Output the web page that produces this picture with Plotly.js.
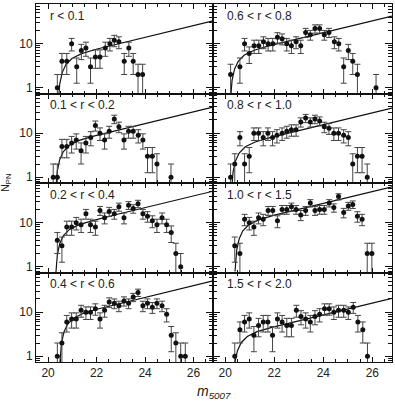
<!DOCTYPE html>
<html>
<head>
<meta charset="utf-8">
<script src="https://cdn.plot.ly/plotly-3.0.1.min.js"></script>
<style>
  body { margin: 0; background: #fff; }
  #chart { width: 395px; height: 401px; }
</style>
</head>
<body>
<div id="chart"></div>
<script>
// panel labels, reading order (left col, right col) row by row
const panelLabels = ['r < 0.1', '0.6 < r < 0.8', '0.1 < r < 0.2', '0.8 < r < 1.0',
                     '0.2 < r < 0.4', '1.0 < r < 1.5', '0.4 < r < 0.6', '1.5 < r < 2.0'];

// binned counts (m5007, N_PN)
const magR000_01 = [20.38, 20.57, 20.77, 20.97, 21.18, 21.37, 21.56, 21.75, 21.95, 22.14, 22.36, 22.55, 22.73, 22.92, 23.14, 23.33, 23.51, 23.71, 23.90];
const numR000_01 = [1, 4, 4, 10, 3, 7, 8, 3, 5, 5, 8, 10, 12, 11, 4, 8, 4, 2, 2];

const magR06_08 = [20.22, 20.60, 20.79, 20.98, 21.18, 21.37, 21.56, 21.75, 21.94, 22.13, 22.32, 22.51, 22.70, 22.89, 23.08, 23.28, 23.47, 23.66, 23.85, 24.04, 24.23, 24.45, 24.63, 24.83, 25.02, 25.20, 25.39, 26.15];
const numR06_08 = [2, 3, 10, 6, 9, 9, 11, 10, 10, 14, 13, 10, 9, 11, 9, 18, 16, 22, 22, 16, 18, 11, 10, 3, 7, 4, 2, 1];

const magR01_02 = [20.21, 20.38, 20.57, 20.77, 20.97, 21.16, 21.36, 21.56, 21.76, 21.95, 22.14, 22.33, 22.52, 22.73, 22.92, 23.13, 23.32, 23.51, 23.72, 23.91, 24.10, 24.30, 24.49, 25.07];
const numR01_02 = [1, 1, 5, 5, 6, 7, 4, 6, 8, 15, 10, 7, 11, 21, 14, 7, 11, 11, 9, 7, 3, 3, 2, 1];

const magR08_10 = [20.22, 20.39, 20.60, 20.79, 20.98, 21.17, 21.36, 21.55, 21.74, 21.93, 22.11, 22.32, 22.51, 22.70, 22.89, 23.08, 23.28, 23.47, 23.66, 23.85, 24.04, 24.23, 24.43, 24.62, 24.83, 25.02, 25.20, 25.39, 25.58, 25.79];
const numR08_10 = [1, 2, 8, 2, 3, 10, 10, 8, 10, 8, 9, 10, 11, 12, 12, 18, 22, 18, 21, 19, 14, 13, 10, 10, 9, 8, 2, 3, 3, 1];

const magR02_04 = [20.38, 20.57, 20.77, 20.97, 21.16, 21.36, 21.56, 21.75, 21.95, 22.14, 22.33, 22.52, 22.73, 22.92, 23.13, 23.32, 23.51, 23.71, 23.91, 24.10, 24.30, 24.49, 24.70, 24.89, 25.08, 25.27, 25.47];
const numR02_04 = [4, 3, 8, 8, 10, 9, 16, 9, 8, 19, 13, 18, 16, 23, 13, 25, 21, 27, 16, 14, 11, 9, 13, 9, 6, 2, 1];

const magR10_15 = [20.39, 20.60, 20.79, 20.98, 21.17, 21.36, 21.55, 21.75, 21.94, 22.13, 22.32, 22.51, 22.70, 22.89, 23.08, 23.28, 23.47, 23.66, 23.85, 24.04, 24.24, 24.43, 24.62, 24.83, 25.02, 25.20, 25.39, 25.58, 25.79, 25.98];
const numR10_15 = [3, 2, 12, 10, 8, 13, 12, 19, 19, 11, 20, 20, 23, 20, 15, 19, 28, 19, 20, 20, 28, 22, 39, 17, 24, 26, 14, 12, 2, 2];

const magR04_06 = [20.38, 20.57, 20.77, 20.97, 21.16, 21.36, 21.56, 21.75, 21.95, 22.14, 22.33, 22.52, 22.73, 22.92, 23.13, 23.32, 23.51, 23.71, 23.91, 24.10, 24.30, 24.49, 24.70, 24.89, 25.08, 25.27, 25.47, 25.66];
const numR04_06 = [1, 2, 6, 7, 7, 11, 10, 10, 12, 7, 11, 17, 16, 14, 18, 16, 22, 28, 14, 16, 13, 16, 14, 9, 3, 2, 1, 1];

const magR15_20 = [20.39, 20.60, 20.79, 20.98, 21.17, 21.36, 21.55, 21.74, 21.93, 22.13, 22.32, 22.51, 22.70, 22.90, 23.09, 23.28, 23.47, 23.66, 23.85, 24.05, 24.24, 24.43, 24.62, 24.83, 25.02, 25.22, 25.41, 25.61, 25.80];
const numR15_20 = [1, 4, 6, 7, 3, 5, 6, 6, 3, 7, 6, 5, 5, 11, 8, 7, 6, 8, 9, 12, 12, 10, 11, 11, 10, 13, 6, 4, 1];

// fitted PNLF curves
const fitMagR000_01 = [20.41, 20.48, 20.58, 20.73, 20.98, 21.38, 21.98, 22.88, 26.8];
const fitNumR000_01 = [0.40, 1.23, 2.21, 3.33, 4.62, 5.94, 7.46, 9.90, 33.0];
const fitMagR06_08 = [20.21, 20.28, 20.38, 20.53, 20.78, 21.18, 21.78, 22.68, 26.8];
const fitNumR06_08 = [0.48, 1.47, 2.64, 3.98, 5.52, 7.11, 8.92, 11.8, 42.0];
const fitMagR01_02 = [20.31, 20.38, 20.48, 20.63, 20.88, 21.28, 21.88, 22.78, 26.8];
const fitNumR01_02 = [0.46, 1.42, 2.54, 3.84, 5.32, 6.85, 8.59, 11.4, 39.0];
const fitMagR08_10 = [20.25, 20.32, 20.42, 20.57, 20.82, 21.22, 21.82, 22.72, 26.8];
const fitNumR08_10 = [0.43, 1.31, 2.35, 3.55, 4.92, 6.33, 7.94, 10.5, 37.0];
const fitMagR02_04 = [20.31, 20.38, 20.48, 20.63, 20.88, 21.28, 21.88, 22.78, 26.8];
const fitNumR02_04 = [0.61, 1.87, 3.36, 5.07, 7.03, 9.04, 11.3, 15.1, 51.7];
const fitMagR10_15 = [20.40, 20.47, 20.57, 20.72, 20.97, 21.37, 21.97, 22.87, 26.8];
const fitNumR10_15 = [0.78, 2.40, 4.32, 6.52, 9.04, 11.6, 14.6, 19.4, 64.8];
const fitMagR04_06 = [20.48, 20.55, 20.65, 20.80, 21.05, 21.45, 22.05, 22.95, 26.8];
const fitNumR04_06 = [0.64, 1.95, 3.50, 5.29, 7.33, 9.43, 11.8, 15.7, 51.3];
const fitMagR15_20 = [20.33, 20.40, 20.50, 20.65, 20.90, 21.30, 21.90, 22.80, 26.8];
const fitNumR15_20 = [0.24, 0.75, 1.34, 2.03, 2.81, 3.62, 4.54, 6.03, 20.6];

const magTicks = [20, 22, 24, 26];

const panels = [
    [magR000_01, numR000_01, fitMagR000_01, fitNumR000_01],
    [magR06_08, numR06_08, fitMagR06_08, fitNumR06_08],
    [magR01_02, numR01_02, fitMagR01_02, fitNumR01_02],
    [magR08_10, numR08_10, fitMagR08_10, fitNumR08_10],
    [magR02_04, numR02_04, fitMagR02_04, fitNumR02_04],
    [magR10_15, numR10_15, fitMagR10_15, fitNumR10_15],
    [magR04_06, numR04_06, fitMagR04_06, fitNumR04_06],
    [magR15_20, numR15_20, fitMagR15_20, fitNumR15_20]
];

const ink = '#111';
const traces = [];
const layout = {
    width: 395,
    height: 401,
    margin: { l: 36, r: 3, t: 4, b: 39 },
    paper_bgcolor: '#fff',
    plot_bgcolor: '#fff',
    showlegend: false,
    font: { family: 'Liberation Sans, Arial, sans-serif', size: 12, color: '#222' },
    annotations: []
};

panels.forEach((p, i) => {
    const n = i + 1;
    const row = Math.floor(i / 2);
    const col = i % 2;
    const xa = n === 1 ? 'x' : 'x' + n;
    const ya = n === 1 ? 'y' : 'y' + n;

    traces.push({
        type: 'scatter', mode: 'lines',
        x: p[2], y: p[3],
        xaxis: xa, yaxis: ya,
        line: { color: ink, width: 1.2 },
        hoverinfo: 'skip'
    });
    traces.push({
        type: 'scatter', mode: 'markers',
        x: p[0], y: p[1],
        xaxis: xa, yaxis: ya,
        marker: { color: ink, size: 5 },
        error_y: { type: 'sqrt', visible: true, color: '#444', thickness: 1, width: 3 }
    });

    layout['xaxis' + (n === 1 ? '' : n)] = {
        domain: col === 0 ? [0, 0.497] : [0.497, 1],
        anchor: ya,
        range: [19.5, 26.8],
        tickmode: 'array',
        tickvals: magTicks,
        showticklabels: row === 3,
        ticks: 'inside', ticklen: 5, tickcolor: ink,
        minor: { dtick: 0.5, tick0: 0, ticks: 'inside', ticklen: 3, tickcolor: ink },
        showline: true, mirror: 'ticks', linecolor: ink, linewidth: 1,
        showgrid: false, zeroline: false,
        tickfont: { size: 12, color: '#222' }
    };
    layout['yaxis' + (n === 1 ? '' : n)] = {
        domain: [1 - (row + 1) * 0.25, 1 - row * 0.25],
        anchor: xa,
        type: 'log',
        range: [-0.13, 1.9],
        tickmode: 'linear', tick0: 0, dtick: 1,
        showticklabels: col === 0,
        ticks: 'inside', ticklen: 7, tickcolor: ink,
        minor: { dtick: 'D1', ticks: 'inside', ticklen: 4, tickcolor: ink },
        showline: true, mirror: 'ticks', linecolor: ink, linewidth: 1,
        showgrid: false, zeroline: false,
        tickfont: { size: 12, color: '#222' }
    };

    layout.annotations.push({
        xref: xa + ' domain', yref: ya + ' domain',
        x: 0.065, y: 0.866, xanchor: 'left', yanchor: 'middle',
        text: panelLabels[i], showarrow: false,
        font: { size: 12, color: '#222' }
    });
});

layout.annotations.push({
    xref: 'paper', yref: 'paper',
    x: -0.084, y: 0.5, xanchor: 'center', textangle: -90,
    text: 'N<sub>PN</sub>', showarrow: false,
    font: { size: 11, color: '#222' }
});
layout.annotations.push({
    xref: 'paper', yref: 'paper',
    x: 0.5, y: -0.084, yanchor: 'middle',
    text: '<i>m</i><sub><i>5007</i></sub>', showarrow: false,
    font: { size: 14, color: '#222' }
});

Plotly.newPlot('chart', traces, layout, { staticPlot: true });
</script>
</body>
</html>
